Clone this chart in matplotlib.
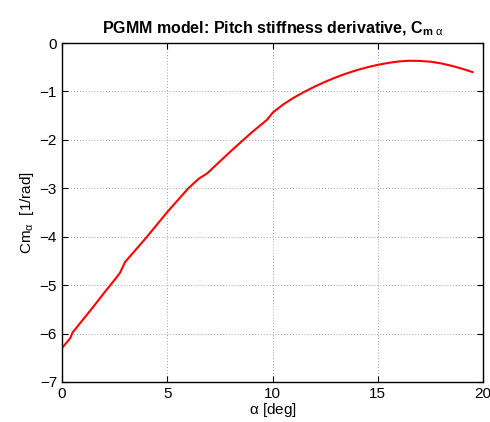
import numpy as np
import matplotlib
matplotlib.use("Agg")
import matplotlib.pyplot as plt

plt.rcParams['font.family'] = ['Liberation Sans', 'DejaVu Sans']
plt.rcParams['mathtext.fontset'] = 'custom'
plt.rcParams['mathtext.rm'] = 'Liberation Sans'
plt.rcParams['mathtext.it'] = 'Liberation Sans'
plt.rcParams['mathtext.bf'] = 'Liberation Sans:bold'

# angle of attack [deg] and pitch stiffness derivative [1/rad]
alpha = [0, 0.4, 0.5, 1, 1.5, 2, 2.5, 2.75, 3.0, 4, 5, 6, 6.5, 6.9, 8, 9,
         9.75, 10, 10.5, 11, 11.5, 12, 12.5, 13, 13.5, 14, 14.5, 15, 15.5,
         16, 16.5, 17, 17.5, 18, 18.5, 19, 19.5]
cm_alpha = [-6.30, -6.09, -5.98, -5.71, -5.44, -5.16, -4.89, -4.75, -4.52,
            -4.02, -3.49, -3.00, -2.80, -2.69, -2.24, -1.85, -1.58, -1.44,
            -1.27, -1.13, -1.01, -0.90, -0.80, -0.71, -0.63, -0.56, -0.50,
            -0.45, -0.41, -0.38, -0.365, -0.37, -0.385, -0.42, -0.47, -0.53,
            -0.60]

fig = plt.figure(figsize=(4.9, 4.22), dpi=100)
ax = fig.add_axes([0.1265, 0.0948, 0.8595, 0.8032])

ax.plot(alpha, cm_alpha, color='red', linewidth=1.5)

ax.set_xlim(0, 20)
ax.set_ylim(-7, 0)
ax.set_xticks([0, 5, 10, 15, 20])
ax.set_yticks(np.arange(-7, 1, 1))
ax.grid(True, linestyle=(0, (1, 2.5)), color='gray', linewidth=0.6)
ax.tick_params(direction='in', top=True, right=True, labelsize=11, length=4)
for s in ax.spines.values():
    s.set_linewidth(1.0)

ax.set_title(r'PGMM model: Pitch stiffness derivative, C$_{\mathbf{m}\ \alpha}$',
             fontsize=11.5, fontweight='bold', pad=7)
ax.set_xlabel(r'$\alpha$ [deg]', fontsize=11, labelpad=0)
ax.set_ylabel(r'Cm$_\alpha$  [1/rad]', fontsize=11, labelpad=3)

fig.savefig('out.png', dpi=100)
